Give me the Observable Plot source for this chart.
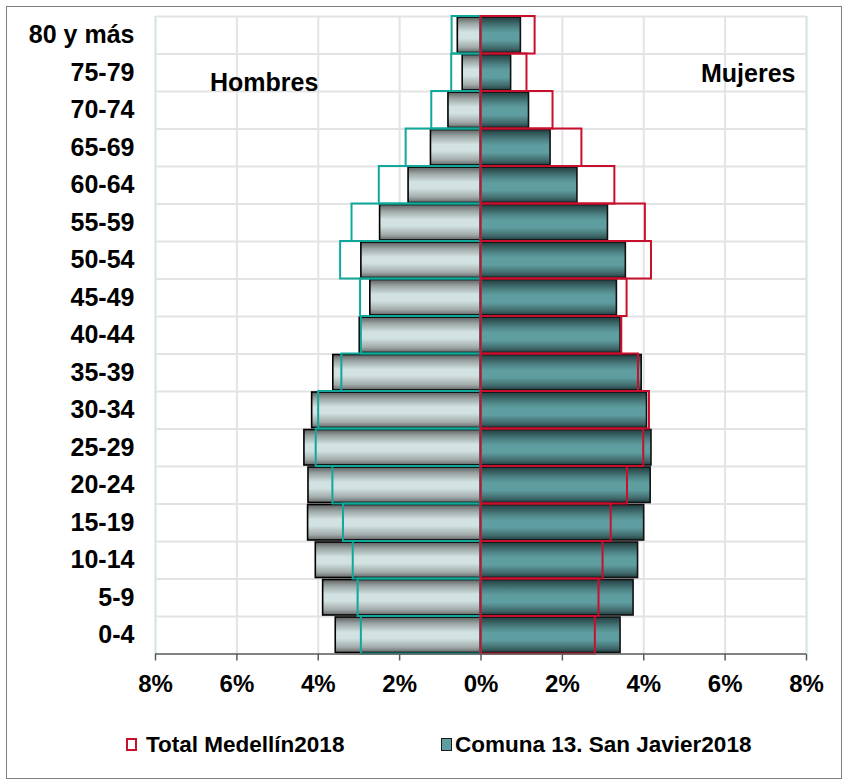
<!DOCTYPE html>
<html>
<head>
<meta charset="utf-8">
<script src="https://cdn.jsdelivr.net/npm/d3@7"></script>
<script src="https://cdn.jsdelivr.net/npm/@observablehq/plot@0.6"></script>
<style>
  body { margin: 0; background: #fff; font-family: "Liberation Sans", Arial, sans-serif; }
  #wrap { position: relative; width: 846px; height: 782px; overflow: hidden; background: #fff; }
  #frame { position: absolute; left: 6px; top: 6px; width: 836px; height: 773px; border: 1px solid #7f7f7f; box-sizing: border-box; }
  #chart { position: absolute; left: 0; top: 0; }
  .ann { position: absolute; font-weight: bold; font-size: 25px; line-height: 25px; color: #000; white-space: nowrap; }
  .leg { position: absolute; font-weight: bold; font-size: 22.5px; line-height: 22px; color: #000; white-space: nowrap; }
  .sw { position: absolute; width: 11px; height: 13px; box-sizing: border-box; }
</style>
</head>
<body>
<svg width="0" height="0" style="position:absolute">
  <defs>
    <linearGradient id="gradH" x1="0" y1="0" x2="0" y2="1">
      <stop offset="0" stop-color="#5e5e5e"/>
      <stop offset="0.18" stop-color="#9aa4a4"/>
      <stop offset="0.42" stop-color="#d2e1e1"/>
      <stop offset="0.6" stop-color="#d2e1e1"/>
      <stop offset="0.85" stop-color="#a2abab"/>
      <stop offset="1" stop-color="#666666"/>
    </linearGradient>
    <linearGradient id="gradM" x1="0" y1="0" x2="0" y2="1">
      <stop offset="0" stop-color="#223d3f"/>
      <stop offset="0.3" stop-color="#4f8587"/>
      <stop offset="0.45" stop-color="#5f9ea0"/>
      <stop offset="0.65" stop-color="#5f9ea0"/>
      <stop offset="0.88" stop-color="#40696b"/>
      <stop offset="1" stop-color="#223d3f"/>
    </linearGradient>
  </defs>
</svg>
<div id="wrap">
  <div id="frame"></div>
  <div id="chart"></div>
  <div class="ann" style="left:210px; top:70px;">Hombres</div>
  <div class="ann" style="left:701px; top:61px;">Mujeres</div>
  <div class="sw" style="left:126px; top:738px; border:2px solid #c8102e; background:#fff;"></div>
  <div class="leg" style="left:146px; top:734px;">Total Medellín2018</div>
  <div class="sw" style="left:441px; top:738px; border:1.5px solid #1a1a1a; background:#5f9ea0;"></div>
  <div class="leg" style="left:455px; top:734px;">Comuna 13. San Javier2018</div>
</div>
<script>
// Age groups (bottom to top)
const categories = ["0-4", "5-9", "10-14", "15-19", "20-24", "25-29", "30-34", "35-39", "40-44",
  "45-49", "50-54", "55-59", "60-64", "65-69", "70-74", "75-79", "80 y más"];

// Comuna 13. San Javier 2018 (% of population)
const comunaHombres = [3.57, 3.88, 4.06, 4.25, 4.24, 4.34, 4.15, 3.63, 2.98, 2.72, 2.94, 2.48, 1.78, 1.23, 0.80, 0.45, 0.57];
const comunaMujeres = [3.43, 3.75, 3.86, 4.01, 4.17, 4.19, 4.08, 3.95, 3.43, 3.34, 3.56, 3.12, 2.37, 1.71, 1.18, 0.74, 0.98];

// Total Medellín 2018 (% of population)
const medellinHombres = [2.94, 3.02, 3.14, 3.38, 3.64, 4.05, 3.99, 3.42, 2.94, 2.96, 3.45, 3.17, 2.50, 1.84, 1.21, 0.72, 0.71];
const medellinMujeres = [2.81, 2.90, 3.00, 3.20, 3.60, 4.00, 4.14, 3.87, 3.46, 3.59, 4.19, 4.04, 3.29, 2.48, 1.77, 1.13, 1.33];

const xTicks = [-8, -6, -4, -2, 0, 2, 4, 6, 8];

const rows = categories.map((c, i) => ({
  cat: c, i,
  y1: i - 0.5, y2: i + 0.5,
  cH: -comunaHombres[i], cM: comunaMujeres[i],
  mH: -medellinHombres[i], mM: medellinMujeres[i]
}));
const boundaries = d3.range(categories.length).map(i => i + 0.5);

const chart = Plot.plot({
  width: 846,
  height: 710,
  marginLeft: 155,
  marginRight: 40,
  marginTop: 16,
  marginBottom: 56.5,
  style: { fontFamily: "Liberation Sans, Arial, sans-serif", fontWeight: "bold", fontSize: "24px", color: "#000", background: "transparent", overflow: "visible" },
  x: { domain: [-8, 8], ticks: xTicks, tickFormat: d => Math.abs(d) + "%", tickSize: 7, tickPadding: 14, label: null },
  y: { domain: [-0.5, categories.length - 0.5], ticks: d3.range(categories.length), tickFormat: i => categories[i], tickSize: 0, tickPadding: 21, label: null },
  marks: [
    Plot.ruleX(xTicks.filter(d => Math.abs(d) < 8), { stroke: "#e3e3e3", strokeWidth: 2 }),
    Plot.ruleX([-8, 8], { stroke: "#d9e8e8", strokeWidth: 2.5 }),
    Plot.ruleY(boundaries, { x1: -8, x2: 8, stroke: "#e3e3e3", strokeWidth: 2 }),
    // Comuna bars
    Plot.rect(rows, { x1: 0, x2: "cH", y1: "y1", y2: "y2", insetTop: 1, insetBottom: 1, fill: "url(#gradH)", stroke: "#000", strokeWidth: 1.6 }),
    Plot.rect(rows, { x1: 0, x2: "cM", y1: "y1", y2: "y2", insetTop: 1, insetBottom: 1, fill: "url(#gradM)", stroke: "#111", strokeWidth: 1.6 }),
    // Medellín outlines
    Plot.rect(rows, { x1: 0, x2: "mH", y1: "y1", y2: "y2", fill: "none", stroke: "#0fa89a", strokeWidth: 2 }),
    Plot.rect(rows, { x1: 0, x2: "mM", y1: "y1", y2: "y2", fill: "none", stroke: "#c8102e", strokeWidth: 2 }),
    // bottom axis line
    Plot.ruleY([-0.5], { x1: -8, x2: 8, stroke: "#5a5a5a", strokeWidth: 1.5 })
  ]
});

// style axes
chart.querySelectorAll('[aria-label="y-axis tick label"] text, [aria-label="y-axis"] text').forEach(t => t.setAttribute("font-size", "25"));
chart.querySelectorAll('[aria-label="x-axis tick"], [aria-label="x-axis"] path').forEach(t => { t.setAttribute("stroke", "#5a5a5a"); t.setAttribute("stroke-width", "1.5"); });
document.getElementById("chart").appendChild(chart);
</script>
</body>
</html>
